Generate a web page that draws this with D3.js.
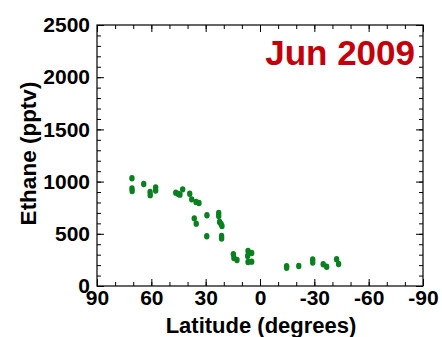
<!DOCTYPE html>
<html>
<head>
<meta charset="utf-8">
<script src="https://cdn.jsdelivr.net/npm/d3@7"></script>
<style>
  body { margin: 0; background: #fff; }
  svg text { font-family: "Liberation Sans", Arial, Helvetica, sans-serif; font-weight: bold; }
  .axis path { display: none; }
  .axis line { stroke: #000; stroke-width: 1; }
</style>
</head>
<body>
<div id="chart"></div>
<script>
// latitude (deg) and ethane mixing ratio (pptv) of the samples
var latitude = [70.7, 70.7, 70.6, 64.2, 60.7, 60.6, 57.6, 57.6, 46.5, 45.1, 44.2, 42.7, 38.8, 37.7, 35.3, 33.7,
  36.3, 35.2, 29.3, 29.4, 22.8, 22.8, 22.3, 21.5, 21.0, 21.2, 21.2, 14.7, 14.4, 12.7, 6.6, 4.6, 6.8, 6.6, 4.6,
  -14.7, -14.7, -21.4, -29.1, -29.1, -34.9, -36.8, -42.3, -43.4];
var ethane = [1032, 935, 910, 977, 900, 870, 945, 915, 894, 881, 875, 926, 884, 830, 805, 795,
  648, 597, 677, 476, 700, 670, 613, 594, 575, 480, 455, 304, 268, 249, 335, 316, 287, 230, 233,
  190, 175, 192, 255, 225, 208, 185, 256, 211];

var xMajor = [90, 60, 30, 0, -30, -60, -90];
var xMinor = d3.range(90, -91, -10);
var yMajor = [0, 500, 1000, 1500, 2000, 2500];
var yMinor = d3.range(0, 2501, 100);

var title = "Jun 2009";

var W = 442, H = 337;
var margin = {top: 25, left: 97, right: 19, bottom: 51};
var width = W - margin.left - margin.right,
    height = H - margin.top - margin.bottom;

var svg = d3.select("#chart").append("svg")
  .attr("width", W)
  .attr("height", H);

var g = svg.append("g")
  .attr("transform", "translate(" + margin.left + "," + margin.top + ")");

var x = d3.scaleLinear().domain([90, -90]).range([0, width]);
var y = d3.scaleLinear().domain([0, 2500]).range([height, 0]);

// minor ticks on all four sides
g.append("g").attr("class", "axis").attr("transform", "translate(0," + height + ")")
  .call(d3.axisBottom(x).tickValues(xMinor).tickSize(-4).tickFormat(""));
g.append("g").attr("class", "axis")
  .call(d3.axisTop(x).tickValues(xMinor).tickSize(-4).tickFormat(""));
g.append("g").attr("class", "axis")
  .call(d3.axisLeft(y).tickValues(yMinor).tickSize(-4).tickFormat(""));
g.append("g").attr("class", "axis").attr("transform", "translate(" + width + ",0)")
  .call(d3.axisRight(y).tickValues(yMinor).tickSize(-4).tickFormat(""));

// major ticks + labels
g.append("g").attr("class", "axis").attr("transform", "translate(0," + height + ")")
  .call(d3.axisBottom(x).tickValues(xMajor).tickSize(-7).tickPadding(4).tickFormat(function(d){ return String(d); }));
g.append("g").attr("class", "axis")
  .call(d3.axisTop(x).tickValues(xMajor).tickSize(-7).tickFormat(""));
g.append("g").attr("class", "axis")
  .call(d3.axisLeft(y).tickValues(yMajor).tickSize(-7).tickPadding(7).tickFormat(d3.format("d")));
g.append("g").attr("class", "axis").attr("transform", "translate(" + width + ",0)")
  .call(d3.axisRight(y).tickValues(yMajor).tickSize(-7).tickFormat(""));

g.selectAll(".axis text")
  .attr("font-size", 21)
  .attr("fill", "#000")
  .style("font-family", "'Liberation Sans', Arial, sans-serif")
  .style("font-weight", "bold");

// frame
g.append("rect")
  .attr("width", width)
  .attr("height", height)
  .attr("fill", "none")
  .attr("stroke", "#000")
  .attr("stroke-width", 1.2);

// points
g.selectAll(".pt")
  .data(latitude)
  .enter().append("ellipse")
  .attr("class", "pt")
  .attr("cx", function(d){ return x(d); })
  .attr("cy", function(d, i){ return y(ethane[i]); })
  .attr("rx", 2.7)
  .attr("ry", 3.2)
  .attr("fill", "#0a8020");

// title
g.append("text")
  .attr("x", width - 8)
  .attr("y", 40)
  .attr("text-anchor", "end")
  .attr("font-size", 35)
  .attr("fill", "#c4000a")
  .text(title);

// axis titles
svg.append("text")
  .attr("x", margin.left + width / 2 + 1)
  .attr("y", H - 4)
  .attr("text-anchor", "middle")
  .attr("font-size", 22)
  .attr("fill", "#000")
  .text("Latitude (degrees)");

svg.append("text")
  .attr("transform", "translate(36," + (margin.top + height / 2 - 2) + ") rotate(-90)")
  .attr("text-anchor", "middle")
  .attr("font-size", 22.5)
  .attr("fill", "#000")
  .text("Ethane (pptv)");
</script>
</body>
</html>
